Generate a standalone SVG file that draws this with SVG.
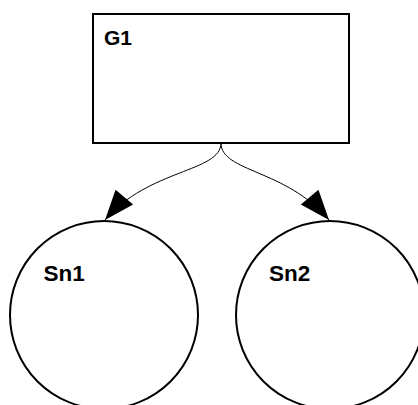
<svg xmlns="http://www.w3.org/2000/svg" width="418" height="405" viewBox="0 0 418 405">
<style>
.node{fill:#fff;stroke:#000;stroke-width:2}
.lbl{font-family:"Liberation Sans",Arial,sans-serif;font-weight:bold;font-size:21px;fill:#000}
.sn{font-size:22.5px}
.edge{fill:none;stroke:#000;stroke-width:1}
</style>
<defs>
<marker id="arr" markerUnits="userSpaceOnUse" viewBox="0 -12 32 24" refX="30" refY="0" markerWidth="32" markerHeight="24" orient="auto" overflow="visible">
<polygon points="0,-11.5 30,0 0,11.5" fill="#000"/>
</marker>
</defs>
<rect width="418" height="405" fill="#fff"/>
<g id="edges">
<path class="edge" d="M221,143 C221,172 148,169 105,220" marker-end="url(#arr)"/>
<path class="edge" d="M221,143 C221,172 286,169 329,220" marker-end="url(#arr)"/>
</g>
<g id="G1">
<rect class="node" x="93" y="14" width="256" height="129"/>
<text class="lbl" x="104" y="45">G1</text>
</g>
<g id="Sn1">
<circle class="node" cx="104" cy="315" r="94"/>
<text class="lbl sn" x="43.5" y="281">Sn1</text>
</g>
<g id="Sn2">
<circle class="node" cx="330" cy="315" r="94"/>
<text class="lbl sn" x="269" y="281">Sn2</text>
</g>
</svg>
